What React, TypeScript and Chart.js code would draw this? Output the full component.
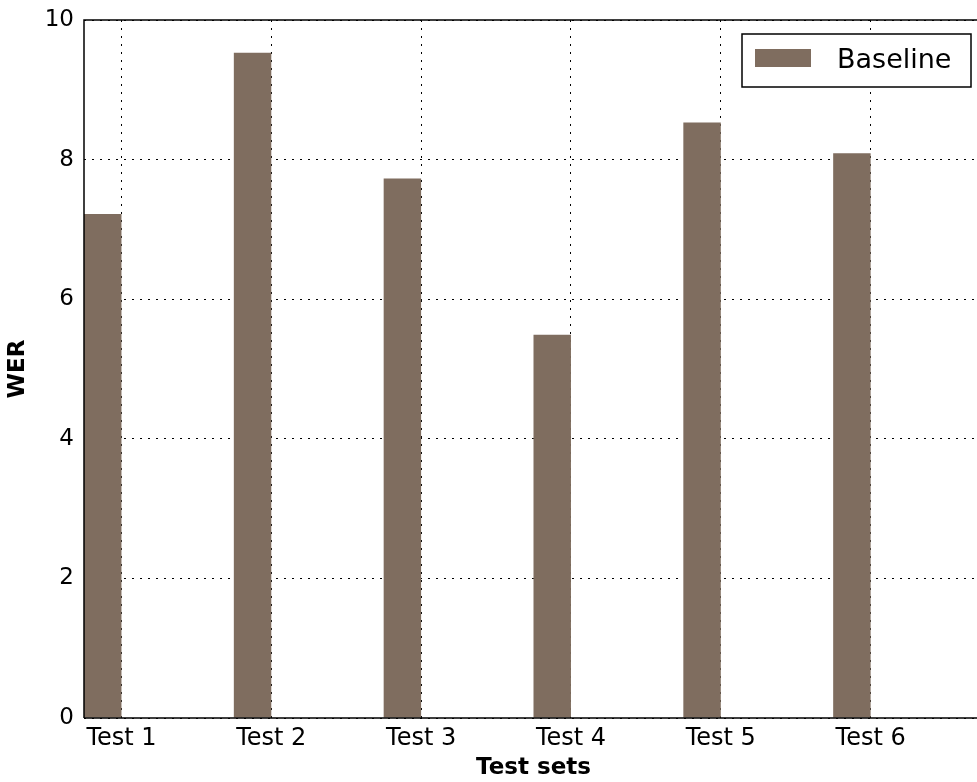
import React, { useEffect, useRef } from "react";
import { Chart, registerables } from "chart.js";

Chart.register(...registerables);

const categories: string[] = ["Test 1", "Test 2", "Test 3", "Test 4", "Test 5", "Test 6"];
const baselineValues: number[] = [7.22, 9.53, 7.73, 5.49, 8.53, 8.09];
const seriesLabel = "Baseline";
const yTicks: number[] = [0, 2, 4, 6, 8, 10];
const barWidth = 0.25;
const barColor = "#7f6d5f";
const FONT = "'DejaVu Sans', sans-serif";

const spinesAndLegend = {
  id: "spinesAndLegend",
  afterDraw(chart: any) {
    const { ctx, chartArea } = chart;
    const { left, top, right, bottom } = chartArea;
    ctx.save();
    ctx.strokeStyle = "#000";
    ctx.lineWidth = 1.5;
    ctx.setLineDash([]);
    ctx.beginPath();
    ctx.moveTo(left, bottom);
    ctx.lineTo(left, top);
    ctx.lineTo(right, top);
    ctx.lineTo(right, bottom);
    ctx.lineTo(left, bottom);
    ctx.stroke();

    // legend (upper right, inside the axes)
    const ds = chart.data.datasets[0];
    const boxW = 229;
    const boxH = 53;
    const bx = right - 12 - boxW;
    const by = top + 14;
    ctx.fillStyle = "#fff";
    ctx.fillRect(bx, by, boxW, boxH);
    ctx.lineWidth = 1.5;
    ctx.strokeStyle = "#000";
    ctx.strokeRect(bx, by, boxW, boxH);
    ctx.fillStyle = ds.backgroundColor;
    ctx.fillRect(bx + 13, by + 15, 56, 18);
    ctx.fillStyle = "#000";
    ctx.font = `27px ${FONT}`;
    ctx.textAlign = "left";
    ctx.textBaseline = "alphabetic";
    ctx.fillText(ds.label, bx + 95, by + 34);
    ctx.restore();
  },
};

export default function App() {
  const canvasRef = useRef<HTMLCanvasElement | null>(null);

  useEffect(() => {
    if (!canvasRef.current) return;
    const chart = new Chart(canvasRef.current, {
      type: "bar",
      data: {
        datasets: [
          {
            label: seriesLabel,
            data: baselineValues.map((v, i) => ({ x: i - barWidth / 2, y: v })),
            backgroundColor: barColor,
            borderWidth: 0,
            barPercentage: barWidth,
            categoryPercentage: 1,
          },
        ],
      },
      options: {
        animation: false,
        responsive: false,
        maintainAspectRatio: false,
        layout: { padding: { top: 20, right: 2, left: 0, bottom: 0 } },
        plugins: {
          legend: { display: false },
          tooltip: { enabled: false },
        },
        scales: {
          x: {
            type: "linear",
            offset: false,
            min: -0.25,
            max: 5.75,
            afterBuildTicks: (s: any) => {
              s.ticks = categories.map((_, i) => ({ value: i }));
            },
            afterFit: (s: any) => {
              s.height = 64;
            },
            ticks: {
              callback: (v: any) => categories[Math.round(Number(v))] ?? "",
              color: "#000",
              font: { family: FONT, size: 24 },
              padding: 6,
              maxRotation: 0,
              autoSkip: false,
            },
            grid: { color: "#000", lineWidth: 1, drawTicks: false, offset: false },
            border: { display: false, dash: [2, 6] },
            title: {
              display: true,
              text: "Test sets",
              color: "#000",
              font: { family: FONT, size: 23, weight: "bold" },
              padding: { top: 0, bottom: 0 },
            },
          },
          y: {
            min: 0,
            max: 10,
            afterBuildTicks: (s: any) => {
              s.ticks = yTicks.map((v) => ({ value: v }));
            },
            afterFit: (s: any) => {
              s.width = 84;
              s.paddingTop = 0;
              s.paddingBottom = 0;
            },
            ticks: {
              color: "#000",
              font: { family: FONT, size: 23, lineHeight: 1 },
              padding: 10,
            },
            grid: { color: "#000", lineWidth: 1, drawTicks: false },
            border: { display: false, dash: [2, 6] },
            title: {
              display: true,
              text: "WER",
              color: "#000",
              font: { family: FONT, size: 23, weight: "bold" },
              padding: { top: 4, bottom: 0 },
            },
          },
        },
      },
      plugins: [spinesAndLegend],
    });
    return () => chart.destroy();
  }, []);

  return (
    <div
      style={{
        position: "absolute",
        left: 0,
        top: 0,
        width: 977,
        height: 782,
        overflow: "hidden",
        background: "#fff",
      }}
    >
      <canvas ref={canvasRef} width={985} height={782} style={{ display: "block" }} />
    </div>
  );
}
